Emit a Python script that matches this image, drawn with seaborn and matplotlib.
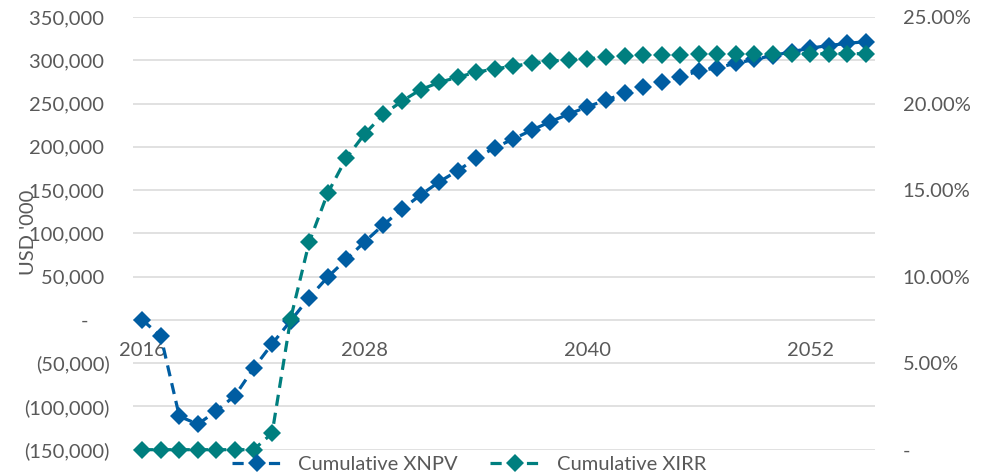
import matplotlib
matplotlib.use("Agg")
import matplotlib.pyplot as plt
from matplotlib.ticker import FixedLocator, FuncFormatter
import numpy as np
import pandas as pd
import seaborn as sns

# Project cumulative results by year
years = list(range(2016, 2056))

cumulative_xnpv = [
    0, -19000, -111500, -120500, -105000, -87500, -56000, -27700, -1000, 25800,
    49500, 70000, 90400, 110000, 127800, 144300, 159400, 172400, 186700, 199000,
    209000, 219400, 229000, 237900, 246300, 254000, 261800, 268700, 275200, 281000,
    287500, 291500, 296400, 301000, 305500, 309800, 314000, 317000, 319500, 321500,
]

cumulative_xirr = [
    0.0, 0.0, 0.0, 0.0, 0.0, 0.0, 0.0, 0.0095, 0.0758, 0.1200,
    0.1483, 0.1685, 0.1826, 0.1937, 0.2014, 0.2080, 0.2122, 0.2152, 0.2181, 0.2200,
    0.2216, 0.2233, 0.2245, 0.2253, 0.2258, 0.2268, 0.2272, 0.2278, 0.2281, 0.2283,
    0.2284, 0.2285, 0.2286, 0.2286, 0.2287, 0.2287, 0.2287, 0.2288, 0.2288, 0.2288,
]

x_tick_years = [2016, 2028, 2040, 2052]
left_ticks = [-150000, -100000, -50000, 0, 50000, 100000, 150000, 200000, 250000, 300000, 350000]
right_ticks = [0.0, 0.05, 0.10, 0.15, 0.20, 0.25]

series_names = ["Cumulative XNPV", "Cumulative XIRR"]
y_title = "USD '000"

df = pd.DataFrame({"year": years, "xnpv": cumulative_xnpv, "xirr": cumulative_xirr})

sns.set_theme(style="white")
plt.rcParams["font.family"] = ["Lato", "DejaVu Sans"]

TEXT = "#595959"
BLUE = "#005DA2"
TEAL = "#007F7F"
GRID = "#D9D9D9"
FS = 14.5

fig = plt.figure(figsize=(10, 4.73), dpi=100)
ax = fig.add_axes([0.133, 1 - 449.7 / 473, 0.742, (449.7 - 17) / 473])
ax2 = ax.twinx()

line_kw = dict(marker="D", markersize=9, markeredgewidth=0, linewidth=2.3,
               linestyle=(0, (3.5, 2.2)))

sns.lineplot(data=df, x="year", y="xnpv", ax=ax, color=BLUE, label=series_names[0],
             legend=False, **line_kw)
sns.lineplot(data=df, x="year", y="xirr", ax=ax2, color=TEAL, label=series_names[1],
             legend=False, **line_kw)

for ln in ax.lines + ax2.lines:
    ln.set_clip_on(False)

# Primary axis (USD '000)
ax.set_xlim(2015.5, 2055.5)
ax.set_ylim(-150000, 350000)
ax.yaxis.set_major_locator(FixedLocator(left_ticks))


def acct(v, _pos=None):
    if abs(v) < 0.5:
        return "-    "
    if v < 0:
        return f"({-v:,.0f})"
    return f"{v:,.0f} "


ax.yaxis.set_major_formatter(FuncFormatter(acct))
ax.grid(axis="y", color=GRID, linewidth=1.1)
ax.grid(axis="x", visible=False)
ax.set_axisbelow(True)
for s in ax.spines.values():
    s.set_visible(False)
ax.spines["bottom"].set_position(("data", 0))

ax.xaxis.set_major_locator(FixedLocator(x_tick_years))
ax.xaxis.set_major_formatter(FuncFormatter(lambda v, p: f"{int(round(v))}"))
ax.tick_params(axis="x", length=0, pad=16, labelsize=FS, labelcolor=TEXT)
ax.tick_params(axis="y", length=0, pad=17, labelsize=FS, labelcolor=TEXT)
ax.set_xlabel("")
ax.set_ylabel("")

# Secondary axis (XIRR)
ax2.set_ylim(0, 0.25)
ax2.yaxis.set_major_locator(FixedLocator(right_ticks))
ax2.yaxis.set_major_formatter(
    FuncFormatter(lambda v, p: "-" if abs(v) < 1e-9 else f"{v * 100:.2f}%"))
ax2.tick_params(axis="y", length=0, pad=20, labelsize=FS, labelcolor=TEXT)
ax2.grid(False)
for s in ax2.spines.values():
    s.set_visible(False)
ax2.set_ylabel("")

fig.text(0.028, 1 - 232 / 473, y_title, rotation=90, ha="center", va="center",
         fontsize=FS, color=TEXT)

handles = [ax.lines[0], ax2.lines[0]]
fig.legend(handles, series_names, loc="center", bbox_to_anchor=(0.469, 1 - 464 / 473),
           ncol=2, frameon=False, fontsize=FS, labelcolor=TEXT, handlelength=2.5,
           handletextpad=0.8, columnspacing=1.6, numpoints=1)

fig.savefig("out.png", dpi=100)
